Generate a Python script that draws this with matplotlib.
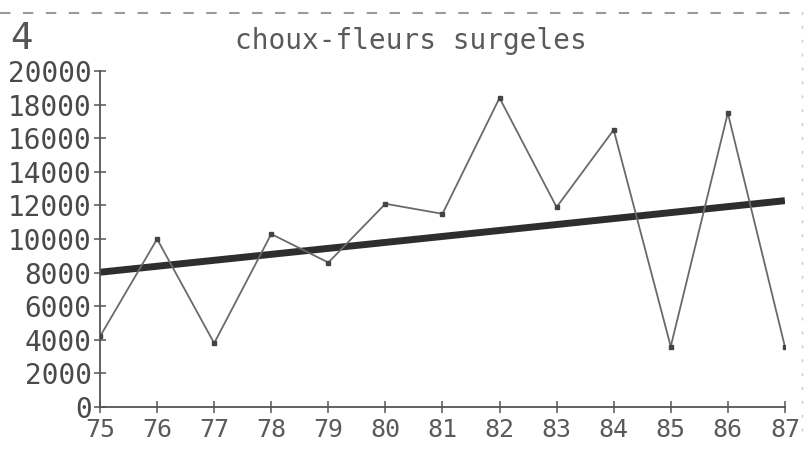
import numpy as np
import matplotlib.pyplot as plt
from matplotlib.lines import Line2D

# Production annuelle (choux-fleurs surgeles)
annees = np.arange(75, 88)
etiquettes = ["75", "76", "77", "78", "79", "80", "81", "82", "83", "84", "85", "86", "87"]
valeurs = [4200, 10000, 3800, 10300, 8600, 12100, 11500, 18400, 11900, 16500, 3600, 17500, 3600]
graduations_y = [0, 2000, 4000, 6000, 8000, 10000, 12000, 14000, 16000, 18000, 20000]

police = "DejaVu Sans Mono"
gris = "#4a4a4a"

fig = plt.figure(figsize=(8.1, 4.54), dpi=100)
ax = fig.add_axes([0.1235, 0.1035, 0.8455, 0.740])

# serie brute
ax.plot(annees, valeurs, color="#6a6a6a", lw=1.3, marker="s", ms=3.5,
        mfc="#444444", mec="#444444", zorder=3)

# droite de tendance (moindres carres)
pente, origine = np.polyfit(annees, valeurs, 1)
ax.plot(annees, pente * annees + origine, color="#2e2e2e", lw=5,
        solid_capstyle="butt", zorder=2)

ax.set_xlim(75, 87)
ax.set_ylim(0, 20000)
ax.set_xticks(annees)
ax.set_xticklabels(etiquettes, family=police, fontsize=18, color="#5a5a5a")
ax.set_yticks(graduations_y)
ax.set_yticklabels([str(v) for v in graduations_y], family=police, fontsize=20, color=gris)
ax.tick_params(axis="both", direction="inout", length=8, width=1.1, color="#555555", pad=2)
ax.tick_params(axis="x", pad=4)

for cote in ["top", "right"]:
    ax.spines[cote].set_visible(False)
for cote in ["left", "bottom"]:
    ax.spines[cote].set_color("#555555")
    ax.spines[cote].set_linewidth(1.3)

# titre et numero de planche
fig.text(0.507, 0.91, "choux-fleurs surgeles", family=police, fontsize=20,
         color="#5a5a5a", ha="center", va="center")
fig.text(0.012, 0.915, "4", family=police, fontsize=27, color="#555555",
         ha="left", va="center")

# cadre pointille du haut et bord droit
fig.add_artist(Line2D([0.0, 0.985], [0.972, 0.972], transform=fig.transFigure,
                      color="#9a9a9a", lw=1.5, ls=(0, (5, 6))))
fig.add_artist(Line2D([0.99, 0.99], [0.05, 0.99], transform=fig.transFigure,
                      color="#c8c8c8", lw=1.0, ls=(0, (2, 8))))

fig.savefig("out.png", dpi=100)
